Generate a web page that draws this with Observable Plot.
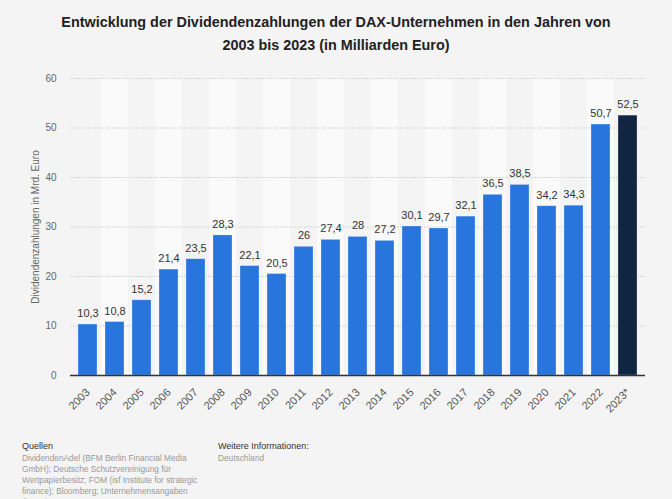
<!DOCTYPE html>
<html><head><meta charset="utf-8">
<script src="https://cdn.jsdelivr.net/npm/d3@7"></script>
<script src="https://cdn.jsdelivr.net/npm/@observablehq/plot@0.6"></script>
<style>
body{margin:0;background:#f4f4f4;font-family:"Liberation Sans",Arial,sans-serif;width:672px;height:499px;overflow:hidden;position:relative}
#title{position:absolute;top:11px;left:0;width:672px;text-align:center;font-weight:bold;font-size:14.4px;line-height:23px;color:#222}
#chart{position:absolute;top:60px;left:0}
#foot{position:absolute;top:441px;left:22px;font-size:8.3px;line-height:11px;white-space:nowrap}
.h{color:#333;font-size:9px;margin-bottom:1px}
.g{color:#999}
</style></head><body>
<div id="title">Entwicklung der Dividendenzahlungen der DAX-Unternehmen in den Jahren von<br>2003 bis 2023 (in Milliarden Euro)</div>
<div id="chart"></div>
<div id="foot">
<div style="position:absolute;left:0;top:0"><div class="h">Quellen</div><div class="g">DividendenAdel (BFM Berlin Financial Media<br>GmbH); Deutsche Schutzvereinigung für<br>Wertpapierbesitz; FOM (isf Institute for strategic<br>finance); Bloomberg; Unternehmensangaben<br>© Statista 2023</div></div>
<div style="position:absolute;left:196px;top:0"><div class="h">Weitere Informationen:</div><div class="g">Deutschland</div></div>
</div>
<script>
const years = ["2003","2004","2005","2006","2007","2008","2009","2010","2011","2012","2013","2014","2015","2016","2017","2018","2019","2020","2021","2022","2023*"];
const values = [10.3,10.8,15.2,21.4,23.5,28.3,22.1,20.5,26,27.4,28,27.2,30.1,29.7,32.1,36.5,38.5,34.2,34.3,50.7,52.5];
const yTicks = [0,10,20,30,40,50,60];
const yLabel = "Dividendenzahlungen in Mrd. Euro";

const data = years.map((y,i)=>({year:y, value:values[i], forecast: y.endsWith("*")}));
const stripes = years.filter((y,i)=>i%2===1);
const fmt = v => String(v).replace(".", ",");

const chart = Plot.plot({
  width: 672, height: 360,
  marginTop: 18, marginBottom: 45, marginLeft: 70, marginRight: 27,
  style: {background: "transparent", fontFamily: "Liberation Sans, Arial, sans-serif"},
  x: {domain: years, padding: 0, label: null},
  y: {domain: [0,60], label: null},
  marks: [
    Plot.cell(stripes, {x: d=>d, fill: "#fafafa"}),
    Plot.gridY(yTicks, {stroke: "#cccccc", strokeOpacity: 1, strokeDasharray: "1.5,1.5"}),
    Plot.barY(data, {x: "year", y: "value", fill: d=>d.forecast ? "#0f2541" : "#2876dd", insetLeft: 4, insetRight: 4, stroke: "#fff", strokeOpacity: 0.35, strokeWidth: 0.8}),
    Plot.ruleY([0], {stroke: "#333", strokeWidth: 1.5}),
    Plot.text(data, {x: "year", y: "value", text: d=>fmt(d.value), dy: -11, fontSize: 11, fill: "#333"}),
    Plot.axisY(yTicks, {tickSize: 0, tickPadding: 14, fontSize: 10, fill: "#666", label: null}),
    Plot.axisX({tickSize: 0, tickRotate: -45, tickPadding: 15, fontSize: 11, fill: "#555", label: null}),
    Plot.text([yLabel], {frameAnchor: "left", textAnchor: "middle", rotate: -90, dx: -35, fontSize: 10, fill: "#666"})
  ]
});
document.getElementById("chart").appendChild(chart);
</script>
</body></html>
